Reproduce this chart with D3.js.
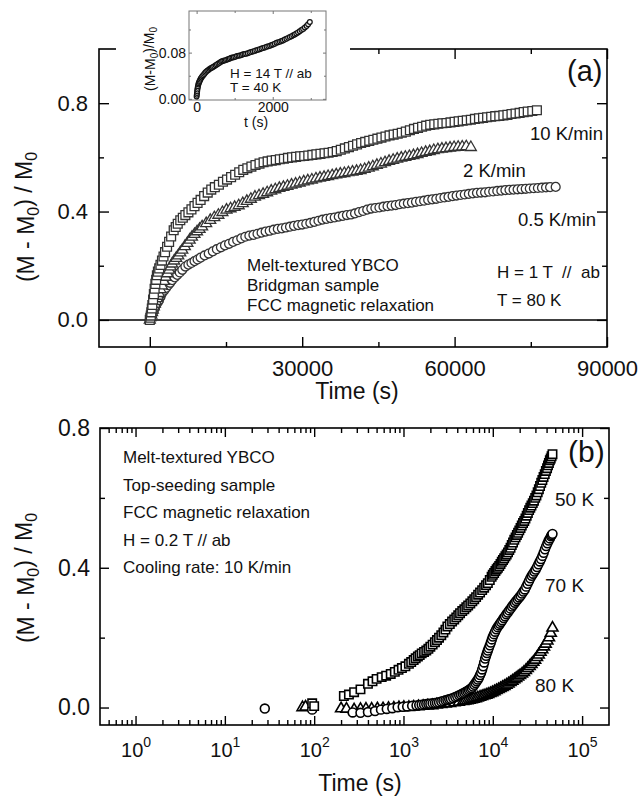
<!DOCTYPE html>
<html>
<head>
<meta charset="utf-8">
<script src="https://cdn.jsdelivr.net/npm/d3@7"></script>
<style>
  body { margin: 0; background: #fff; }
  svg { display: block; }
  text { font-family: "Liberation Sans", Arial, sans-serif; fill: #111; }
</style>
</head>
<body>
<div id="chart"></div>
<script>
// ---- panel (a): linear time, three cooling rates ----
var a10T = [0,100,200,300,400,500,650,800,950,1100,1250,1400,1600,1850,2100,2400,2700,3000,3400,3800,4200,4700,5100,5500,6000,6500,7000,7600,8200,8800,9400,10000,10700,11400,12100,12800,13600,14400,15200,16000,16800,17600,18400,19200,20000,20800,21600,22400,23200,24000,24800,25600,26400,27200,28000,28800,29600,30400,31200,32000,32800,33600,34400,35200,36000,36800,37600,38400,39200,40000,40800,41600,42400,43200,44000,44800,45600,46400,47200,48000,48800,49600,50400,51200,52000,52800,53600,54400,55200,56000,56800,57600,58400,59200,60000,60800,61600,62400,63200,64000,64800,65600,66400,67200,68000,68800,69600,70400,71200,72000,72800,73600,74400,75300,76200];
var a10V = [0,0.008,0.016,0.028,0.042,0.055,0.075,0.095,0.115,0.133,0.148,0.165,0.178,0.19,0.203,0.219,0.234,0.25,0.27,0.288,0.308,0.331,0.343,0.355,0.368,0.377,0.387,0.397,0.408,0.42,0.432,0.443,0.457,0.47,0.481,0.49,0.499,0.51,0.518,0.527,0.536,0.545,0.554,0.56,0.566,0.572,0.577,0.582,0.585,0.588,0.59,0.593,0.595,0.598,0.6,0.602,0.604,0.605,0.607,0.609,0.611,0.613,0.615,0.617,0.62,0.623,0.628,0.633,0.638,0.643,0.648,0.653,0.657,0.661,0.665,0.669,0.673,0.677,0.681,0.684,0.687,0.691,0.695,0.7,0.705,0.709,0.713,0.717,0.72,0.722,0.724,0.726,0.727,0.729,0.731,0.733,0.735,0.737,0.739,0.742,0.744,0.746,0.748,0.75,0.752,0.753,0.755,0.757,0.76,0.762,0.764,0.767,0.769,0.771,0.774];

var a2T = [0,150,300,450,600,800,1000,1200,1400,1600,1800,2100,2400,2750,3100,3450,3800,4100,4400,4800,5200,5600,6000,6400,6900,7400,7850,8300,8800,9300,9800,10300,11100,11900,12700,13500,14300,15100,15900,16700,17500,18300,19100,19900,20700,21500,22300,23100,23900,24700,25500,26300,27100,27900,28700,29500,30300,31100,31900,32700,33500,34300,35100,35900,36700,37500,38300,39100,39900,40700,41500,42300,43100,43900,44700,45500,46300,47100,47900,48700,49500,50300,51100,51900,52700,53500,54300,55100,55900,56700,57500,58300,59100,59900,60700,61500,62300,63200];
var a2V = [0,0.009,0.018,0.028,0.037,0.049,0.059,0.069,0.079,0.088,0.098,0.112,0.126,0.143,0.158,0.171,0.184,0.196,0.207,0.218,0.228,0.237,0.248,0.258,0.271,0.283,0.295,0.306,0.316,0.326,0.335,0.344,0.356,0.368,0.378,0.387,0.397,0.406,0.411,0.416,0.422,0.43,0.438,0.446,0.454,0.459,0.464,0.47,0.476,0.481,0.486,0.49,0.494,0.498,0.502,0.506,0.51,0.514,0.517,0.521,0.524,0.527,0.53,0.533,0.536,0.539,0.541,0.544,0.546,0.549,0.552,0.556,0.561,0.566,0.571,0.576,0.581,0.586,0.59,0.594,0.598,0.601,0.604,0.607,0.611,0.615,0.619,0.622,0.626,0.629,0.631,0.633,0.635,0.637,0.638,0.639,0.64,0.637];

var a05T = [0,200,400,600,800,1000,1250,1500,1800,2100,2400,2800,3200,3600,4000,4400,4900,5400,5900,6400,7000,7600,8200,8800,9400,10000,10800,11600,12400,13200,14000,14800,15600,16400,17200,18000,18800,19600,20400,21200,22000,22800,23600,24400,25200,26000,26800,27600,28400,29200,30000,30800,31600,32400,33200,34000,34800,35600,36400,37200,38000,38800,39600,40400,41200,42000,42800,43600,44400,45200,46000,46800,47600,48400,49200,50000,50800,51600,52400,53200,54000,54800,55600,56400,57200,58000,58800,59600,60400,61200,62000,62800,63600,64400,65200,66000,66800,67600,68400,69200,70000,70800,71600,72400,73200,74000,74800,75600,76400,77200,78000,78800,79900];
var a05V = [0,0.009,0.018,0.027,0.036,0.045,0.055,0.063,0.072,0.085,0.098,0.108,0.118,0.128,0.137,0.147,0.157,0.166,0.175,0.185,0.197,0.204,0.21,0.217,0.223,0.23,0.238,0.245,0.253,0.261,0.268,0.275,0.281,0.288,0.294,0.301,0.307,0.311,0.314,0.318,0.322,0.326,0.329,0.333,0.336,0.338,0.341,0.344,0.347,0.35,0.352,0.355,0.358,0.362,0.366,0.37,0.373,0.376,0.378,0.381,0.384,0.387,0.389,0.393,0.398,0.402,0.407,0.411,0.413,0.415,0.418,0.42,0.422,0.424,0.427,0.429,0.431,0.433,0.436,0.438,0.44,0.443,0.445,0.447,0.45,0.452,0.454,0.457,0.459,0.461,0.463,0.465,0.467,0.469,0.47,0.471,0.473,0.474,0.476,0.477,0.479,0.48,0.481,0.482,0.483,0.484,0.485,0.486,0.487,0.488,0.489,0.49,0.491];

// inset: H = 14 T, T = 40 K
var insetT = [0,5,10,15,20,28,35,45,55,68,80,95,110,130,150,175,200,225,250,280,310,340,370,400,430,465,500,535,570,605,640,670,700,735,770,805,840,875,910,945,980,1020,1060,1100,1140,1180,1220,1260,1300,1345,1390,1435,1480,1525,1570,1615,1660,1705,1750,1795,1840,1885,1930,1970,2010,2055,2100,2145,2190,2230,2270,2315,2360,2405,2450,2495,2540,2580,2620,2665,2710,2755,2800,2845,2890,2930,2975];
var insetV = [0.004,0.007,0.01,0.013,0.016,0.019,0.022,0.025,0.027,0.029,0.031,0.033,0.035,0.037,0.039,0.041,0.043,0.045,0.047,0.0485,0.05,0.0515,0.053,0.054,0.055,0.0565,0.058,0.0595,0.061,0.0625,0.064,0.065,0.066,0.0665,0.067,0.068,0.069,0.07,0.071,0.0715,0.072,0.073,0.074,0.0745,0.075,0.076,0.077,0.0775,0.078,0.079,0.08,0.081,0.082,0.083,0.084,0.085,0.086,0.087,0.088,0.089,0.09,0.091,0.092,0.093,0.094,0.0955,0.097,0.098,0.099,0.1,0.101,0.1025,0.104,0.1055,0.107,0.1085,0.11,0.1115,0.113,0.115,0.117,0.119,0.121,0.1235,0.126,0.129,0.133];

// ---- panel (b): log time, three temperatures ----
var b50T = [95,100,215,245,280,330,400,450,500,570,640,720,800,880,960,1050,1150,1220,1300,1370,1450,1520,1600,1700,1800,1900,2000,2120,2250,2370,2500,2650,2800,2950,3100,3300,3500,3700,3900,4100,4300,4550,4800,5050,5300,5600,5900,6200,6500,6850,7200,7600,8000,8400,8800,9250,9700,10000,10350,10700,11050,11400,11800,12200,12600,13000,13400,13850,14300,14800,15300,15800,16300,16850,17400,18000,18600,19200,19800,20450,21100,21800,22500,23200,23950,24700,25500,26300,27100,28000,28900,29850,30800,31800,32800,33800,34850,35900,37000,38150,39300,40500,41500,42500,43500,44500,45500,46600];
var b50V = [0.012,0.004,0.033,0.037,0.044,0.052,0.068,0.075,0.082,0.087,0.091,0.096,0.102,0.108,0.113,0.118,0.125,0.13,0.136,0.141,0.146,0.15,0.155,0.159,0.163,0.168,0.174,0.18,0.187,0.193,0.2,0.207,0.215,0.223,0.232,0.239,0.246,0.252,0.258,0.264,0.27,0.276,0.281,0.287,0.292,0.298,0.304,0.31,0.316,0.323,0.329,0.336,0.343,0.35,0.356,0.365,0.374,0.38,0.385,0.391,0.396,0.4,0.405,0.411,0.417,0.422,0.427,0.433,0.438,0.444,0.451,0.457,0.465,0.472,0.48,0.487,0.494,0.5,0.507,0.514,0.521,0.528,0.534,0.541,0.549,0.557,0.565,0.572,0.578,0.585,0.592,0.6,0.607,0.616,0.625,0.634,0.643,0.651,0.66,0.668,0.677,0.685,0.693,0.7,0.708,0.713,0.719,0.725];

var b70T = [28,95,270,330,400,480,560,650,750,860,980,1100,1250,1400,1500,1600,1700,1800,1900,2000,2120,2250,2370,2500,2650,2800,2950,3100,3250,3400,3600,3800,4000,4200,4400,4600,4800,5000,5200,5400,5600,5800,6000,6200,6400,6600,6800,7000,7200,7400,7600,7800,8000,8200,8400,8600,8800,9000,9250,9500,9750,10000,10300,10600,10950,11300,11650,12000,12400,12800,13250,13700,14200,14700,15250,15800,16400,17000,17650,18300,19000,19700,20450,21200,22000,22800,23650,24500,25400,26300,27250,28200,29200,30200,31300,32400,33550,34700,35900,37100,38350,39600,40900,42200,43500,44800,45700,46600];
var b70V = [-0.003,-0.006,-0.014,-0.015,-0.013,-0.01,-0.006,-0.004,-0.002,0.001,0.002,0.003,0.005,0.006,0.007,0.008,0.009,0.01,0.0105,0.011,0.012,0.013,0.014,0.015,0.017,0.019,0.0205,0.022,0.0235,0.025,0.0275,0.03,0.0325,0.035,0.0375,0.04,0.0425,0.045,0.0475,0.05,0.053,0.056,0.06,0.065,0.07,0.075,0.08,0.086,0.093,0.1,0.109,0.118,0.129,0.14,0.148,0.156,0.163,0.17,0.178,0.186,0.195,0.203,0.21,0.217,0.224,0.23,0.235,0.24,0.245,0.25,0.256,0.261,0.267,0.272,0.278,0.283,0.289,0.294,0.3,0.305,0.31,0.315,0.32,0.326,0.332,0.338,0.346,0.354,0.362,0.37,0.377,0.383,0.389,0.395,0.402,0.41,0.418,0.425,0.434,0.443,0.453,0.462,0.47,0.478,0.484,0.49,0.494,0.497];

var b80T = [74,80,200,230,280,330,380,440,510,590,680,780,890,1010,1150,1300,1470,1660,1870,2100,2360,2650,2970,3330,3730,4170,4650,4900,5200,5500,5800,6100,6450,6800,7200,7600,8000,8450,8900,9400,9900,10450,11000,11600,12200,12850,13500,14250,15000,15800,16600,17450,18300,19250,20200,21250,22300,23450,24600,25850,27100,28450,29800,31250,32700,34250,35800,37450,39100,40850,42600,44600,46600];
var b80V = [0,0.002,-0.003,-0.004,-0.006,-0.005,-0.004,-0.004,-0.003,-0.003,-0.002,-0.001,0,0.001,0.001,0.002,0.003,0.004,0.005,0.006,0.008,0.009,0.011,0.012,0.014,0.016,0.018,0.019,0.02,0.0215,0.023,0.0245,0.026,0.028,0.03,0.032,0.034,0.036,0.038,0.0405,0.043,0.046,0.049,0.052,0.055,0.058,0.061,0.0645,0.068,0.072,0.076,0.08,0.084,0.088,0.092,0.0965,0.101,0.1065,0.112,0.118,0.124,0.13,0.136,0.1435,0.151,0.1585,0.166,0.174,0.182,0.191,0.2,0.213,0.228];

// ticks
var aXMajor = [0, 30000, 60000, 90000];
var aXMinor = [15000, 45000, 75000];
var aYMajor = [0, 0.4, 0.8];
var aYMinor = [0.2, 0.6];
var insetXMajor = [0, 2000];
var insetXMinor = [1000, 3000];
var insetYMajor = [0, 0.08];
var insetYMinor = [0.04, 0.12];
var bXMajor = [1, 10, 100, 1000, 10000, 100000];
var bYMajor = [0, 0.4, 0.8];
var bYMinor = [0.2, 0.6];

var width = 641;
var height = 798;
var svg = d3.select('#chart').append('svg')
  .attr('width', width)
  .attr('height', height);

function styleAxis(g, size) {
  g.select('.domain').remove();
  g.selectAll('.tick line').attr('stroke', '#000').attr('stroke-width', 1.4);
  g.attr('font-size', size).attr('font-family', '"Liberation Sans", Arial, sans-serif');
  g.selectAll('.tick text').attr('fill', '#111');
}

function drawAxes(g, x, y, o) {
  var x0 = x.range()[0], x1 = x.range()[1], y0 = y.range()[0], y1 = y.range()[1];
  // bottom
  g.append('g').attr('transform', 'translate(0,' + y0 + ')')
    .call(d3.axisBottom(x).tickValues(o.xMinor).tickSize(-o.minor).tickFormat(''))
    .call(styleAxis, o.font);
  var bx = g.append('g').attr('transform', 'translate(0,' + y0 + ')')
    .call(d3.axisBottom(x).tickValues(o.xMajor).tickSize(-o.major).tickPadding(o.xPad).tickFormat(o.xFormat))
    .call(styleAxis, o.font);
  // top
  g.append('g').attr('transform', 'translate(0,' + y1 + ')')
    .call(d3.axisTop(x).tickValues(o.xMinor).tickSize(-o.minor).tickFormat(''))
    .call(styleAxis, o.font);
  g.append('g').attr('transform', 'translate(0,' + y1 + ')')
    .call(d3.axisTop(x).tickValues(o.xMajor).tickSize(-o.major).tickFormat(''))
    .call(styleAxis, o.font);
  // left
  g.append('g').attr('transform', 'translate(' + x0 + ',0)')
    .call(d3.axisLeft(y).tickValues(o.yMinor).tickSize(-o.minor).tickFormat(''))
    .call(styleAxis, o.font);
  g.append('g').attr('transform', 'translate(' + x0 + ',0)')
    .call(d3.axisLeft(y).tickValues(o.yMajor).tickSize(-o.major).tickPadding(o.yPad).tickFormat(o.yFormat))
    .call(styleAxis, o.yFont || o.font);
  // right
  g.append('g').attr('transform', 'translate(' + x1 + ',0)')
    .call(d3.axisRight(y).tickValues(o.yMinor).tickSize(-o.minor).tickFormat(''))
    .call(styleAxis, o.font);
  g.append('g').attr('transform', 'translate(' + x1 + ',0)')
    .call(d3.axisRight(y).tickValues(o.yMajor).tickSize(-o.major).tickFormat(''))
    .call(styleAxis, o.font);
  // frame
  g.append('rect')
    .attr('x', x0).attr('y', y1)
    .attr('width', x1 - x0).attr('height', y0 - y1)
    .attr('fill', 'none').attr('stroke', o.frame || '#000').attr('stroke-width', o.frameWidth || 1.6);
  return bx;
}

function drawSeries(g, x, y, ts, vs, type, size, stroke, sw) {
  g.append('g').selectAll('path')
    .data(d3.zip(ts, vs))
    .enter()
    .append('path')
    .attr('transform', function(d) { return 'translate(' + x(d[0]) + ',' + y(d[1]) + ')'; })
    .attr('d', d3.symbol().type(type).size(size))
    .attr('fill', '#fff')
    .attr('stroke', stroke)
    .attr('stroke-width', sw);
}

function yLabel(g, x, y, size, sub) {
  var t = g.append('text')
    .attr('transform', 'translate(' + x + ',' + y + ') rotate(-90)')
    .attr('text-anchor', 'middle')
    .attr('font-size', size);
  t.append('tspan').text('(M - M');
  t.append('tspan').attr('font-size', sub).attr('dy', '0.3em').text('0');
  t.append('tspan').attr('dy', '-0.3em').text(') / M');
  t.append('tspan').attr('font-size', sub).attr('dy', '0.3em').text('0');
}

function label(g, x, y, size, str, anchor) {
  g.append('text').attr('x', x).attr('y', y)
    .attr('font-size', size)
    .attr('text-anchor', anchor || 'start')
    .style('white-space', 'pre')
    .text(str);
}

// ===================== panel (a) =====================
var xA = d3.scaleLinear().domain([-10000, 90000]).range([99, 607]);
var yA = d3.scaleLinear().domain([-0.1, 1.0]).range([347, 49]);
var gA = svg.append('g');

gA.append('line')
  .attr('x1', xA.range()[0]).attr('x2', xA.range()[1])
  .attr('y1', yA(0)).attr('y2', yA(0))
  .attr('stroke', '#000').attr('stroke-width', 1.5);

drawAxes(gA, xA, yA, {
  xMajor: aXMajor, xMinor: aXMinor, yMajor: aYMajor, yMinor: aYMinor,
  major: 10, minor: 5, font: 22, xPad: 13, yPad: 11,
  xFormat: d3.format('d'), yFormat: d3.format('.1f')
});

drawSeries(gA, xA, yA, a05T, a05V, d3.symbolCircle, 62, '#333', 1.3);
drawSeries(gA, xA, yA, a2T, a2V, d3.symbolTriangle, 52, '#333', 1.3);
drawSeries(gA, xA, yA, a10T, a10V, d3.symbolSquare, 78, '#333', 1.3);

label(gA, 567, 81, 29, '(a)');
label(gA, 530, 140, 18.5, '10 K/min');
label(gA, 463, 177, 18.5, '2 K/min');
label(gA, 518, 226, 18.5, '0.5 K/min');
label(gA, 497, 278, 17, 'H = 1 T  //  ab');
label(gA, 497, 306, 17, 'T = 80 K');
label(gA, 247, 271, 17, 'Melt-textured YBCO');
label(gA, 247, 291, 17, 'Bridgman sample');
label(gA, 247, 311, 17, 'FCC magnetic relaxation');

yLabel(gA, 34, 217, 23, 16);
label(gA, 357, 399, 23, 'Time (s)', 'middle');

// inset
gA.append('rect').attr('x', 116).attr('y', 0).attr('width', 234).attr('height', 130).attr('fill', '#fff');
var xI = d3.scaleLinear().domain([-200, 3400]).range([189, 326]);
var yI = d3.scaleLinear().domain([-0.002, 0.152]).range([100, 11]);
var gI = gA.append('g');
drawAxes(gI, xI, yI, {
  xMajor: insetXMajor, xMinor: insetXMinor, yMajor: insetYMajor, yMinor: insetYMinor,
  major: 3, minor: 2, font: 14, xPad: 2, yPad: 3,
  xFormat: d3.format('d'), yFormat: d3.format('.2f'), frame: '#777', frameWidth: 1
});
gI.selectAll('.tick line').attr('stroke', '#777').attr('stroke-width', 1);
drawSeries(gI, xI, yI, insetT, insetV, d3.symbolCircle, 18, '#111', 1.2);
label(gI, 230, 78, 13.5, 'H = 14 T // ab');
label(gI, 230, 92, 13.5, 'T = 40 K');
label(gI, 256, 127, 14, 't (s)', 'middle');
(function() {
  var t = gI.append('text')
    .attr('transform', 'translate(155,59) rotate(-90)')
    .attr('text-anchor', 'middle')
    .attr('font-size', 14);
  t.append('tspan').text('(M-M');
  t.append('tspan').attr('font-size', 10).attr('dy', '0.3em').text('0');
  t.append('tspan').attr('dy', '-0.3em').text(')/M');
  t.append('tspan').attr('font-size', 10).attr('dy', '0.3em').text('0');
})();

// ===================== panel (b) =====================
var xB = d3.scaleLog().domain([0.4, 2e5]).range([100, 609]);
var yB = d3.scaleLinear().domain([-0.05, 0.8]).range([725, 428]);
var bXMinor = [0.5, 0.6, 0.7, 0.8, 0.9];
bXMajor.forEach(function(p) {
  for (var k = 2; k <= 9; k++) {
    if (p * k < xB.domain()[1]) bXMinor.push(p * k);
  }
});

var gB = svg.append('g');
var bx = drawAxes(gB, xB, yB, {
  xMajor: bXMajor, xMinor: bXMinor, yMajor: bYMajor, yMinor: bYMinor,
  major: 9, minor: 5, font: 20, yFont: 23, xPad: 18, yPad: 10,
  xFormat: function(d) { return d; }, yFormat: d3.format('.1f')
});
bx.selectAll('.tick text').each(function(d) {
  var t = d3.select(this);
  t.text(null);
  t.append('tspan').text('10');
  t.append('tspan').attr('font-size', 14).attr('dy', -10).text(Math.round(Math.log10(d)));
});

drawSeries(gB, xB, yB, b80T, b80V, d3.symbolTriangle, 52, '#000', 1.6);
drawSeries(gB, xB, yB, b70T, b70V, d3.symbolCircle, 62, '#000', 1.6);
drawSeries(gB, xB, yB, b50T, b50V, d3.symbolSquare, 70, '#000', 1.6);

label(gB, 568, 462, 30, '(b)');
label(gB, 555, 506, 19, '50 K');
label(gB, 545, 592, 19, '70 K');
label(gB, 535, 692, 19, '80 K');
label(gB, 123, 463, 17, 'Melt-textured YBCO');
label(gB, 123, 491, 17, 'Top-seeding sample');
label(gB, 123, 518, 17, 'FCC magnetic relaxation');
label(gB, 123, 546, 17, 'H = 0.2 T // ab');
label(gB, 123, 573, 17, 'Cooling rate: 10 K/min');

yLabel(gB, 34, 578, 23, 16);
label(gB, 360, 791, 23, 'Time (s)', 'middle');
</script>
</body>
</html>
